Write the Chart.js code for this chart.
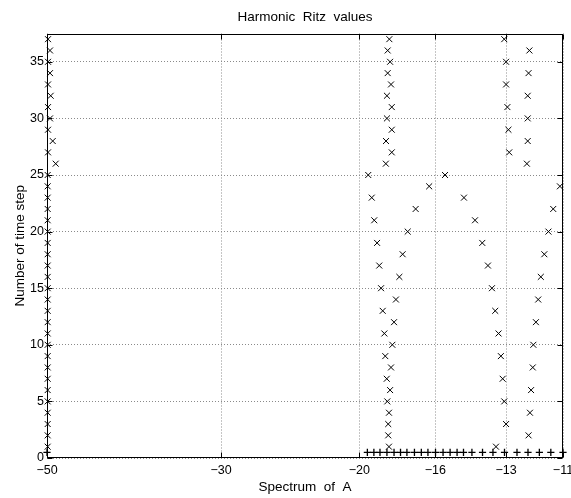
<!DOCTYPE html>
<html lang="en">
<head>
<meta charset="UTF-8">
<title>Harmonic Ritz values</title>
<script src="https://cdn.jsdelivr.net/npm/chart.js"></script>
<style>
  html, body { margin: 0; padding: 0; background: #fff; }
  canvas { display: block; }
</style>
</head>
<body>
<canvas id="ritzChart" width="571" height="498"></canvas>
<script>
// time steps (y) and the three harmonic Ritz values read at each step
const timeSteps = [1, 2, 3, 4, 5, 6, 7, 8, 9, 10, 11, 12, 13, 14, 15, 16, 17, 18, 19, 20,
  21, 22, 23, 24, 25, 26, 27, 28, 29, 30, 31, 32, 33, 34, 35, 36, 37];

const ritzLow = [-49.9, -49.9, -49.9, -49.9, -49.9, -49.9, -49.9, -49.9, -49.9, -49.9,
  -49.9, -49.9, -49.9, -49.9, -49.9, -49.9, -49.9, -49.9, -49.9, -49.9,
  -49.9, -49.9, -49.9, -49.9, -49.9, -48.74, -49.85, -49.17, -49.85, -49.56,
  -49.85, -49.46, -49.85, -49.56, -49.85, -49.56, -49.85];

const ritzMid = [-18.33, -18.37, -18.37, -18.33, -18.42, -18.27, -18.45, -18.22, -18.53, -18.15,
  -18.58, -18.06, -18.67, -17.96, -18.76, -17.78, -18.86, -17.61, -18.98, -17.35,
  -19.14, -16.95, -19.28, -16.29, -19.48, -18.5, -18.18, -18.49, -18.18, -18.44,
  -18.18, -18.44, -18.22, -18.4, -18.27, -18.4, -18.31];

const ritzHigh = [-13.39, -12.17, -13.0, -12.12, -13.07, -12.08, -13.13, -12.02, -13.2, -12.0,
  -13.29, -11.91, -13.42, -11.83, -13.55, -11.74, -13.71, -11.62, -13.94, -11.48,
  -14.24, -11.32, -14.71, -11.1, -15.55, -12.23, -12.88, -12.2, -12.91, -12.2,
  -12.95, -12.2, -13.0, -12.17, -13.0, -12.14, -13.07];

// spectrum of A, drawn along the bottom
const eigenvalues = [-50, -19.53, -19.16, -18.82, -18.44, -18.06, -17.72, -17.39, -17.01, -16.67,
  -16.35, -15.99, -15.64, -15.32, -15.01, -14.73, -14.37, -13.93, -13.51, -13.06,
  -12.59, -12.19, -11.79, -11.4, -11.0];
const eigenLevel = 0.5;

const xTickValues = [-50, -30, -20, -16, -13, -11];
const yTickValues = [0, 5, 10, 15, 20, 25, 30, 35];

const fonte = { family: '"Liberation Sans", Arial, sans-serif', size: 12.5, weight: 'normal' };
const fonteTitulo = { family: '"Liberation Sans", Arial, sans-serif', size: 13.5, weight: 'normal' };

// x axis is log of |lambda|, reversed so -50 sits on the left
function ritzPoints(values) {
  return timeSteps.map((t, i) => ({ x: -values[i], y: t }));
}

function ritzDataset(label, values) {
  return {
    label: label,
    data: ritzPoints(values),
    pointStyle: 'crossRot',
    pointRadius: 4.2,
    pointHoverRadius: 4.2,
    borderColor: '#000',
    backgroundColor: '#000',
    pointBorderWidth: 1,
    clip: false
  };
}

// box around the axes with inward tick marks, like matlab
const moldura = {
  id: 'moldura',
  afterDatasetsDraw(chart) {
    const { ctx, chartArea: a, scales } = chart;
    const l = Math.round(a.left) + 0.5, r = Math.round(a.right) - 0.5;
    const t = Math.round(a.top) + 0.5, b = Math.round(a.bottom) - 0.5;
    ctx.save();
    ctx.strokeStyle = '#000';
    ctx.lineWidth = 1;
    ctx.strokeRect(l, t, r - l, b - t);
    ctx.beginPath();
    xTickValues.forEach(v => {
      const px = Math.round(scales.x.getPixelForValue(-v)) + 0.5;
      ctx.moveTo(px, b); ctx.lineTo(px, b - 5);
      ctx.moveTo(px, t); ctx.lineTo(px, t + 5);
    });
    yTickValues.forEach(v => {
      const py = Math.round(scales.y.getPixelForValue(v)) + 0.5;
      ctx.moveTo(l, py); ctx.lineTo(l + 5, py);
      ctx.moveTo(r, py); ctx.lineTo(r - 5, py);
    });
    ctx.stroke();
    ctx.restore();
  }
};

const dados = {
  datasets: [
    ritzDataset('ritz low', ritzLow),
    ritzDataset('ritz mid', ritzMid),
    ritzDataset('ritz high', ritzHigh),
    {
      label: 'eigenvalues',
      data: eigenvalues.map(v => ({ x: -v, y: eigenLevel })),
      pointStyle: 'cross',
      pointRadius: 3.6,
      pointHoverRadius: 3.6,
      borderColor: '#000',
      backgroundColor: '#000',
      pointBorderWidth: 1.3,
      clip: false
    }
  ]
};

const config = {
  type: 'scatter',
  data: dados,
  options: {
    responsive: false,
    animation: false,
    devicePixelRatio: 1,
    layout: { padding: { left: 0, right: 8, top: 0, bottom: 0 } },
    plugins: {
      legend: { display: false },
      tooltip: { enabled: false },
      title: {
        display: true,
        text: 'Harmonic  Ritz  values',
        fullSize: false,
        color: '#000',
        font: fonteTitulo,
        padding: { top: 8.9, bottom: 8.4 }
      }
    },
    scales: {
      x: {
        type: 'logarithmic',
        reverse: true,
        min: 11,
        max: 50,
        bounds: 'data',
        afterBuildTicks: s => { s.ticks = xTickValues.map(v => ({ value: -v })); },
        afterFit: s => { s.height = 40; s.paddingLeft = 0; s.paddingRight = 0; },
        ticks: {
          callback: v => '\u2212' + v,
          color: '#000',
          font: fonte,
          padding: 5,
          maxRotation: 0,
          autoSkip: false
        },
        grid: { color: '#8a8a8a', lineWidth: 1, drawTicks: false },
        border: { display: false, dash: [1, 2] },
        title: {
          display: true,
          text: 'Spectrum  of  A',
          color: '#000',
          font: fonteTitulo,
          padding: { top: 0, bottom: 2.9 }
        }
      },
      y: {
        type: 'linear',
        min: 0,
        max: 37.5,
        bounds: 'data',
        afterBuildTicks: s => { s.ticks = yTickValues.map(v => ({ value: v })); },
        afterFit: s => { s.width = 47; s.paddingTop = 0; s.paddingBottom = 0; },
        ticks: { color: '#000', font: fonte, padding: 3 },
        grid: { color: '#8a8a8a', lineWidth: 1, drawTicks: false },
        border: { display: false, dash: [1, 2] },
        title: {
          display: true,
          text: 'Number of time step',
          color: '#000',
          font: fonteTitulo,
          padding: { top: 11.9, bottom: 0 }
        }
      }
    }
  },
  plugins: [moldura]
};

const ritzChart = new Chart(document.getElementById('ritzChart'), config);
</script>
</body>
</html>
